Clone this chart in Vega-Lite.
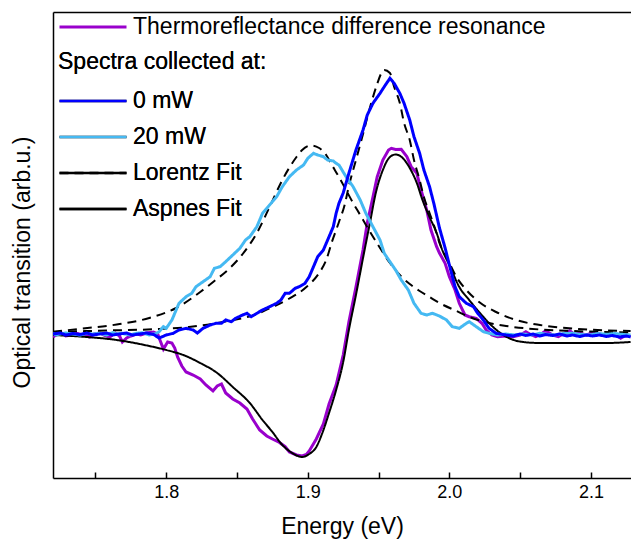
{
 "$schema": "https://vega.github.io/schema/vega-lite/v6.json",
 "autosize": {"type": "none"},
 "padding": {"left": 53, "top": 12, "right": 0, "bottom": 63},
 "width": 578,
 "height": 466,
 "config": {
  "font": "Liberation Sans",
  "view": {"stroke": null},
  "axis": {"grid": false, "domainColor": "black", "domainWidth": 1.5, "labelColor": "black", "titleColor": "black", "tickColor": "black", "titleFontWeight": "normal"},
  "legend": {"labelColor": "black", "titleColor": "black", "labelFont": "Liberation Sans", "titleFont": "Liberation Sans"}
 },
 "datasets": {
  "tr": [
   {"energy":1.720,"value":-0.03},{"energy":1.722,"value":-0.01},{"energy":1.726,"value":0.01},{"energy":1.729,"value":-0.02},{"energy":1.733,"value":-0.01},{"energy":1.736,"value":0.01},{"energy":1.741,"value":-0.01},{"energy":1.746,"value":-0.03},{"energy":1.749,"value":0.0},{"energy":1.753,"value":0.01},{"energy":1.756,"value":-0.01},{"energy":1.760,"value":-0.03},{"energy":1.764,"value":0.01},{"energy":1.767,"value":-0.02},{"energy":1.769,"value":-0.08},{"energy":1.772,"value":-0.04},{"energy":1.775,"value":-0.02},{"energy":1.779,"value":0.0},{"energy":1.782,"value":-0.01},{"energy":1.786,"value":0.01},{"energy":1.791,"value":0.02},{"energy":1.794,"value":0.0},{"energy":1.795,"value":-0.04},{"energy":1.798,"value":-0.15},{"energy":1.801,"value":-0.08},{"energy":1.804,"value":-0.09},{"energy":1.806,"value":-0.14},{"energy":1.808,"value":-0.23},{"energy":1.811,"value":-0.32},{"energy":1.814,"value":-0.38},{"energy":1.819,"value":-0.41},{"energy":1.824,"value":-0.45},{"energy":1.828,"value":-0.51},{"energy":1.833,"value":-0.57},{"energy":1.836,"value":-0.52},{"energy":1.839,"value":-0.50},{"energy":1.842,"value":-0.59},{"energy":1.847,"value":-0.65},{"energy":1.852,"value":-0.69},{"energy":1.857,"value":-0.75},{"energy":1.861,"value":-0.85},{"energy":1.866,"value":-0.96},{"energy":1.871,"value":-1.02},{"energy":1.875,"value":-1.05},{"energy":1.880,"value":-1.085},{"energy":1.884,"value":-1.127},{"energy":1.887,"value":-1.18},{"energy":1.892,"value":-1.21},{"energy":1.896,"value":-1.22},{"energy":1.899,"value":-1.205},{"energy":1.901,"value":-1.17},{"energy":1.906,"value":-1.05},{"energy":1.911,"value":-0.90},{"energy":1.915,"value":-0.70},{"energy":1.920,"value":-0.51},{"energy":1.925,"value":-0.21},{"energy":1.929,"value":0.12},{"energy":1.934,"value":0.47},{"energy":1.939,"value":0.84},{"energy":1.942,"value":1.11},{"energy":1.946,"value":1.37},{"energy":1.949,"value":1.57},{"energy":1.953,"value":1.74},{"energy":1.957,"value":1.84},{"energy":1.959,"value":1.857},{"energy":1.962,"value":1.845},{"energy":1.966,"value":1.847},{"energy":1.970,"value":1.773},{"energy":1.973,"value":1.673},{"energy":1.977,"value":1.607},{"energy":1.980,"value":1.44},{"energy":1.984,"value":1.24},{"energy":1.987,"value":1.04},{"energy":1.991,"value":0.873},{"energy":1.993,"value":0.81},{"energy":1.997,"value":0.707},{"energy":2.000,"value":0.573},{"energy":2.004,"value":0.44},{"energy":2.007,"value":0.307},{"energy":2.011,"value":0.19},{"energy":2.014,"value":0.173},{"energy":2.019,"value":0.157},{"energy":2.023,"value":0.107},{"energy":2.026,"value":0.04},{"energy":2.030,"value":-0.01},{"energy":2.034,"value":-0.027},{"energy":2.040,"value":-0.02},{"energy":2.045,"value":-0.027},{"energy":2.050,"value":-0.01},{"energy":2.054,"value":0.023},{"energy":2.058,"value":-0.01},{"energy":2.061,"value":-0.027},{"energy":2.065,"value":0.0},{"energy":2.068,"value":0.033},{"energy":2.073,"value":-0.01},{"energy":2.077,"value":-0.027},{"energy":2.081,"value":0.007},{"energy":2.085,"value":0.033},{"energy":2.088,"value":0.0},{"energy":2.092,"value":0.007},{"energy":2.097,"value":-0.01},{"energy":2.100,"value":0.007},{"energy":2.104,"value":0.013},{"energy":2.108,"value":-0.01},{"energy":2.113,"value":0.0},{"energy":2.118,"value":-0.01},{"energy":2.121,"value":-0.043},{"energy":2.125,"value":-0.01},{"energy":2.128,"value":-0.027}
  ],
  "mw0": [
   {"energy":1.720,"value":0.0},{"energy":1.725,"value":0.01},{"energy":1.729,"value":-0.01},{"energy":1.734,"value":0.005},{"energy":1.739,"value":-0.005},{"energy":1.744,"value":0.01},{"energy":1.748,"value":-0.01},{"energy":1.753,"value":0.0},{"energy":1.758,"value":0.01},{"energy":1.762,"value":-0.01},{"energy":1.767,"value":0.0},{"energy":1.772,"value":0.01},{"energy":1.776,"value":-0.01},{"energy":1.781,"value":0.0},{"energy":1.786,"value":0.01},{"energy":1.791,"value":-0.005},{"energy":1.795,"value":-0.04},{"energy":1.800,"value":-0.01},{"energy":1.805,"value":0.007},{"energy":1.809,"value":0.04},{"energy":1.814,"value":0.057},{"energy":1.819,"value":0.04},{"energy":1.822,"value":0.01},{"energy":1.826,"value":0.057},{"energy":1.831,"value":0.09},{"energy":1.835,"value":0.107},{"energy":1.839,"value":0.107},{"energy":1.842,"value":0.14},{"energy":1.846,"value":0.123},{"energy":1.849,"value":0.157},{"energy":1.854,"value":0.19},{"energy":1.857,"value":0.207},{"energy":1.860,"value":0.173},{"energy":1.864,"value":0.207},{"energy":1.868,"value":0.24},{"energy":1.873,"value":0.273},{"energy":1.878,"value":0.307},{"energy":1.881,"value":0.34},{"energy":1.884,"value":0.407},{"energy":1.887,"value":0.407},{"energy":1.891,"value":0.457},{"energy":1.894,"value":0.473},{"energy":1.898,"value":0.507},{"energy":1.901,"value":0.573},{"energy":1.904,"value":0.673},{"energy":1.907,"value":0.773},{"energy":1.911,"value":0.84},{"energy":1.914,"value":0.94},{"energy":1.918,"value":1.073},{"energy":1.920,"value":1.207},{"energy":1.922,"value":1.307},{"energy":1.925,"value":1.41},{"energy":1.929,"value":1.607},{"energy":1.934,"value":1.84},{"energy":1.939,"value":2.04},{"energy":1.942,"value":2.19},{"energy":1.946,"value":2.307},{"energy":1.951,"value":2.407},{"energy":1.954,"value":2.473},{"energy":1.958,"value":2.557},{"energy":1.961,"value":2.507},{"energy":1.965,"value":2.407},{"energy":1.968,"value":2.307},{"energy":1.972,"value":2.14},{"energy":1.975,"value":1.973},{"energy":1.979,"value":1.807},{"energy":1.982,"value":1.64},{"energy":1.986,"value":1.473},{"energy":1.989,"value":1.307},{"energy":1.993,"value":1.06},{"energy":1.997,"value":0.86},{"energy":2.000,"value":0.69},{"energy":2.004,"value":0.473},{"energy":2.007,"value":0.373},{"energy":2.012,"value":0.307},{"energy":2.017,"value":0.273},{"energy":2.020,"value":0.207},{"energy":2.024,"value":0.14},{"energy":2.028,"value":0.057},{"energy":2.033,"value":0.007},{"energy":2.040,"value":-0.01},{"energy":2.045,"value":-0.02},{"energy":2.050,"value":0.0},{"energy":2.054,"value":-0.015},{"energy":2.059,"value":0.0},{"energy":2.064,"value":-0.02},{"energy":2.068,"value":-0.005},{"energy":2.073,"value":-0.015},{"energy":2.078,"value":0.0},{"energy":2.083,"value":-0.02},{"energy":2.087,"value":-0.01},{"energy":2.092,"value":-0.025},{"energy":2.097,"value":-0.01},{"energy":2.101,"value":-0.02},{"energy":2.106,"value":-0.01},{"energy":2.111,"value":-0.025},{"energy":2.115,"value":-0.015},{"energy":2.120,"value":-0.03},{"energy":2.125,"value":-0.02},{"energy":2.128,"value":-0.03}
  ],
  "mw20": [
   {"energy":1.720,"value":0.007},{"energy":1.722,"value":-0.01},{"energy":1.725,"value":0.0},{"energy":1.729,"value":0.01},{"energy":1.734,"value":0.0},{"energy":1.739,"value":-0.01},{"energy":1.744,"value":0.007},{"energy":1.748,"value":0.0},{"energy":1.753,"value":0.007},{"energy":1.758,"value":-0.01},{"energy":1.762,"value":0.013},{"energy":1.765,"value":0.0},{"energy":1.769,"value":0.007},{"energy":1.774,"value":-0.01},{"energy":1.779,"value":0.007},{"energy":1.783,"value":0.013},{"energy":1.788,"value":-0.01},{"energy":1.793,"value":0.007},{"energy":1.795,"value":0.023},{"energy":1.798,"value":0.073},{"energy":1.800,"value":0.057},{"energy":1.804,"value":0.14},{"energy":1.807,"value":0.24},{"energy":1.809,"value":0.307},{"energy":1.814,"value":0.373},{"energy":1.818,"value":0.407},{"energy":1.821,"value":0.473},{"energy":1.826,"value":0.523},{"energy":1.831,"value":0.573},{"energy":1.834,"value":0.657},{"energy":1.838,"value":0.673},{"energy":1.842,"value":0.723},{"energy":1.847,"value":0.79},{"energy":1.852,"value":0.857},{"energy":1.856,"value":0.94},{"energy":1.859,"value":0.973},{"energy":1.864,"value":1.073},{"energy":1.868,"value":1.207},{"energy":1.873,"value":1.29},{"energy":1.878,"value":1.373},{"energy":1.882,"value":1.473},{"energy":1.887,"value":1.573},{"energy":1.892,"value":1.64},{"energy":1.897,"value":1.69},{"energy":1.900,"value":1.757},{"energy":1.904,"value":1.807},{"energy":1.907,"value":1.79},{"energy":1.911,"value":1.773},{"energy":1.914,"value":1.74},{"energy":1.918,"value":1.73},{"energy":1.920,"value":1.707},{"energy":1.922,"value":1.69},{"energy":1.927,"value":1.573},{"energy":1.932,"value":1.473},{"energy":1.937,"value":1.34},{"energy":1.941,"value":1.207},{"energy":1.946,"value":1.073},{"energy":1.951,"value":0.94},{"energy":1.954,"value":0.807},{"energy":1.958,"value":0.723},{"energy":1.962,"value":0.64},{"energy":1.966,"value":0.54},{"energy":1.971,"value":0.44},{"energy":1.975,"value":0.307},{"energy":1.980,"value":0.207},{"energy":1.984,"value":0.19},{"energy":1.988,"value":0.207},{"energy":1.993,"value":0.18},{"energy":1.998,"value":0.14},{"energy":2.002,"value":0.073},{"energy":2.007,"value":0.057},{"energy":2.012,"value":0.107},{"energy":2.014,"value":0.123},{"energy":2.019,"value":0.073},{"energy":2.024,"value":0.023},{"energy":2.028,"value":0.007},{"energy":2.034,"value":-0.01},{"energy":2.040,"value":0.0},{"energy":2.046,"value":-0.01},{"energy":2.052,"value":0.0},{"energy":2.058,"value":-0.01},{"energy":2.064,"value":0.007},{"energy":2.070,"value":-0.005},{"energy":2.075,"value":-0.01},{"energy":2.081,"value":0.005},{"energy":2.087,"value":0.007},{"energy":2.093,"value":-0.005},{"energy":2.099,"value":-0.01},{"energy":2.105,"value":0.005},{"energy":2.111,"value":-0.003},{"energy":2.117,"value":0.005},{"energy":2.123,"value":-0.005},{"energy":2.128,"value":-0.01}
  ],
  "lor20": [
   {"energy":1.720,"value":0.023},{"energy":1.741,"value":0.055},{"energy":1.765,"value":0.095},{"energy":1.788,"value":0.16},{"energy":1.807,"value":0.26},{"energy":1.824,"value":0.42},{"energy":1.834,"value":0.53},{"energy":1.845,"value":0.66},{"energy":1.854,"value":0.80},{"energy":1.864,"value":1.01},{"energy":1.873,"value":1.27},{"energy":1.882,"value":1.54},{"energy":1.892,"value":1.77},{"energy":1.896,"value":1.84},{"energy":1.902,"value":1.885},{"energy":1.908,"value":1.86},{"energy":1.913,"value":1.79},{"energy":1.917,"value":1.69},{"energy":1.922,"value":1.57},{"energy":1.927,"value":1.44},{"energy":1.932,"value":1.31},{"energy":1.937,"value":1.19},{"energy":1.944,"value":1.02},{"energy":1.951,"value":0.86},{"energy":1.958,"value":0.71},{"energy":1.965,"value":0.59},{"energy":1.972,"value":0.50},{"energy":1.979,"value":0.43},{"energy":1.986,"value":0.37},{"energy":1.993,"value":0.31},{"energy":2.005,"value":0.23},{"energy":2.016,"value":0.16},{"energy":2.028,"value":0.11},{"energy":2.040,"value":0.08},{"energy":2.064,"value":0.045},{"energy":2.087,"value":0.03},{"energy":2.110,"value":0.02},{"energy":2.128,"value":0.015}
  ],
  "lor0": [
   {"energy":1.720,"value":0.02},{"energy":1.758,"value":0.035},{"energy":1.795,"value":0.05},{"energy":1.816,"value":0.07},{"energy":1.840,"value":0.12},{"energy":1.864,"value":0.20},{"energy":1.875,"value":0.27},{"energy":1.887,"value":0.355},{"energy":1.899,"value":0.47},{"energy":1.908,"value":0.61},{"energy":1.913,"value":0.74},{"energy":1.917,"value":0.92},{"energy":1.922,"value":1.12},{"energy":1.926,"value":1.29},{"energy":1.929,"value":1.48},{"energy":1.934,"value":1.74},{"energy":1.939,"value":2.00},{"energy":1.944,"value":2.27},{"energy":1.949,"value":2.50},{"energy":1.952,"value":2.61},{"energy":1.954,"value":2.64},{"energy":1.958,"value":2.61},{"energy":1.961,"value":2.47},{"energy":1.965,"value":2.31},{"energy":1.968,"value":2.11},{"energy":1.972,"value":1.94},{"energy":1.975,"value":1.74},{"energy":1.979,"value":1.54},{"energy":1.982,"value":1.37},{"energy":1.986,"value":1.21},{"energy":1.990,"value":1.05},{"energy":1.993,"value":0.91},{"energy":1.999,"value":0.74},{"energy":2.005,"value":0.57},{"energy":2.012,"value":0.44},{"energy":2.021,"value":0.32},{"energy":2.033,"value":0.22},{"energy":2.047,"value":0.14},{"energy":2.064,"value":0.09},{"energy":2.087,"value":0.055},{"energy":2.128,"value":0.03}
  ],
  "asp": [
   {"energy":1.720,"value":-0.01},{"energy":1.741,"value":-0.027},{"energy":1.765,"value":-0.06},{"energy":1.788,"value":-0.12},{"energy":1.800,"value":-0.16},{"energy":1.812,"value":-0.21},{"energy":1.824,"value":-0.29},{"energy":1.836,"value":-0.39},{"energy":1.847,"value":-0.53},{"energy":1.859,"value":-0.69},{"energy":1.868,"value":-0.86},{"energy":1.875,"value":-0.98},{"energy":1.882,"value":-1.11},{"energy":1.889,"value":-1.19},{"energy":1.896,"value":-1.23},{"energy":1.901,"value":-1.20},{"energy":1.906,"value":-1.13},{"energy":1.910,"value":-1.00},{"energy":1.915,"value":-0.79},{"energy":1.920,"value":-0.56},{"energy":1.925,"value":-0.28},{"energy":1.929,"value":0.04},{"energy":1.934,"value":0.39},{"energy":1.939,"value":0.76},{"energy":1.944,"value":1.12},{"energy":1.948,"value":1.41},{"energy":1.953,"value":1.64},{"energy":1.958,"value":1.77},{"energy":1.962,"value":1.795},{"energy":1.967,"value":1.76},{"energy":1.972,"value":1.66},{"energy":1.977,"value":1.51},{"energy":1.981,"value":1.34},{"energy":1.986,"value":1.17},{"energy":1.991,"value":1.01},{"energy":1.995,"value":0.84},{"energy":2.000,"value":0.69},{"energy":2.007,"value":0.47},{"energy":2.014,"value":0.34},{"energy":2.021,"value":0.22},{"energy":2.028,"value":0.11},{"energy":2.035,"value":0.02},{"energy":2.042,"value":-0.04},{"energy":2.052,"value":-0.08},{"energy":2.064,"value":-0.09},{"energy":2.087,"value":-0.09},{"energy":2.111,"value":-0.09},{"energy":2.128,"value":-0.08}
  ]
 },
 "resolve": {"scale": {"color": "independent"}, "axis": {"x": "independent"}},
 "layer": [
  {
   "data": {"name": "tr"},
   "mark": {"type": "line", "strokeWidth": 3, "clip": true},
   "encoding": {
    "x": {"field": "energy", "type": "quantitative", "scale": {"domain": [1.72, 2.1283], "nice": false, "zero": false},
          "axis": {"orient": "top", "labels": false, "ticks": false, "title": null}},
    "y": {"field": "value", "type": "quantitative", "scale": {"domain": [-1.44, 3.22], "nice": false, "zero": false},
          "axis": {"title": "Optical transition (arb.u.)", "labels": false, "ticks": false, "titleFontSize": 23, "titlePadding": 19, "titleY": 250}},
    "color": {"datum": "Thermoreflectance difference resonance", "type": "nominal",
      "scale": {"domain": ["Thermoreflectance difference resonance"], "range": ["#9900cc"]},
      "legend": {"title": null, "orient": "none", "legendX": 5, "legendY": -3, "symbolType": "stroke", "symbolSize": 4489, "symbolStrokeWidth": 3, "labelFontSize": 23, "labelLimit": 600, "clipHeight": 36, "padding": 0, "labelOffset": 5, "rowPadding": 0}}
   }
  },
  {
   "encoding": {
    "x": {"field": "energy", "type": "quantitative", "scale": {"domain": [1.72, 2.1283], "nice": false, "zero": false},
          "axis": {"title": "Energy (eV)", "titleFontSize": 23, "titlePadding": 14, "labelFontSize": 18, "labelPadding": 11,
                   "values": [1.75, 1.8, 1.85, 1.9, 1.95, 2.0, 2.05, 2.1],
                   "labelExpr": "abs(datum.value*10 - round(datum.value*10)) < 0.01 ? format(datum.value, '.1f') : ''",
                   "tickSize": -6,
                   "tickWidth": 1.5, "labelOverlap": false, "labelFlush": false}},
    "y": {"field": "value", "type": "quantitative", "scale": {"domain": [-1.44, 3.22], "nice": false, "zero": false},
          "axis": {"title": "Optical transition (arb.u.)", "labels": false, "ticks": false, "titleFontSize": 23, "titlePadding": 19, "titleY": 250}}
   },
   "layer": [
    {"data": {"name": "lor20"}, "mark": {"type": "line", "strokeWidth": 2, "interpolate": "monotone", "clip": true},
     "encoding": {"color": {"datum": "Lorentz Fit", "type": "nominal"}, "strokeDash": {"datum": "Lorentz Fit", "type": "nominal"}}},
    {"data": {"name": "lor0"}, "mark": {"type": "line", "strokeWidth": 2, "interpolate": "monotone", "clip": true},
     "encoding": {"color": {"datum": "Lorentz Fit", "type": "nominal"}, "strokeDash": {"datum": "Lorentz Fit", "type": "nominal"}}},
    {"data": {"name": "asp"}, "mark": {"type": "line", "strokeWidth": 2, "interpolate": "monotone", "clip": true},
     "encoding": {"color": {"datum": "Aspnes Fit", "type": "nominal"}, "strokeDash": {"datum": "Aspnes Fit", "type": "nominal"}}},
    {"data": {"name": "mw20"}, "mark": {"type": "line", "strokeWidth": 3, "clip": true},
     "encoding": {"color": {"datum": "20 mW", "type": "nominal"}, "strokeDash": {"datum": "20 mW", "type": "nominal"}}},
    {"data": {"name": "mw0"}, "mark": {"type": "line", "strokeWidth": 3, "clip": true},
     "encoding": {
      "color": {"datum": "0 mW", "type": "nominal",
        "scale": {"domain": ["0 mW", "20 mW", "Lorentz Fit", "Aspnes Fit"], "range": ["#0000ff", "#45b9f2", "black", "black"]},
        "legend": {"title": "Spectra collected at:", "titleFontSize": 23, "titleFontWeight": "normal", "titleLimit": 600, "titlePadding": 9, "orient": "none", "legendX": 5, "legendY": 39, "symbolType": "stroke", "symbolSize": 4489, "symbolStrokeWidth": 2.5, "labelFontSize": 23, "labelLimit": 600, "clipHeight": 36, "padding": 0, "labelOffset": 5, "rowPadding": 0}},
      "strokeDash": {"datum": "0 mW", "type": "nominal",
        "scale": {"domain": ["0 mW", "20 mW", "Lorentz Fit", "Aspnes Fit"], "range": [[1, 0], [1, 0], [9, 6], [1, 0]]},
        "legend": {"title": "Spectra collected at:", "titleFontSize": 23, "titleFontWeight": "normal", "titleLimit": 600, "titlePadding": 9, "orient": "none", "legendX": 5, "legendY": 39, "symbolType": "stroke", "symbolSize": 4489, "symbolStrokeWidth": 2.5, "labelFontSize": 23, "labelLimit": 600, "clipHeight": 36, "padding": 0, "labelOffset": 5, "rowPadding": 0}}
     }}
   ]
  }
 ]
}
